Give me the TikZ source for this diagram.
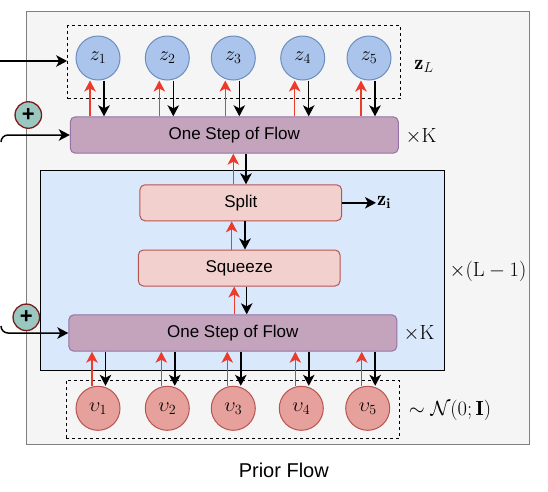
\RequirePackage{fix-cm}
\documentclass[tikz,border=0pt]{standalone}
\usepackage{fontspec}
\newfontfamily\lsans{Liberation Sans}
\usetikzlibrary{arrows.meta,calc}
\definecolor{outerfill}{HTML}{F5F5F5}
\definecolor{outerdraw}{HTML}{808080}
\definecolor{zfill}{HTML}{ABC4EB}
\definecolor{zdraw}{HTML}{6C8EBF}
\definecolor{vfill}{HTML}{E6A19C}
\definecolor{vdraw}{HTML}{B85450}
\definecolor{flowfill}{HTML}{C4A3BD}
\definecolor{flowdraw}{HTML}{9673A6}
\definecolor{pinkfill}{HTML}{F2D0CE}
\definecolor{pinkdraw}{HTML}{B85450}
\definecolor{bluefill}{HTML}{DAE8FC}
\definecolor{plusfill}{HTML}{9AC7BF}
\definecolor{plusdraw}{HTML}{7B1C1C}
\definecolor{redarr}{HTML}{EE3A2B}
\begin{document}
\begin{tikzpicture}[x=1pt,y=-1pt,
  outerbox/.style={draw=outerdraw,fill=outerfill,line width=1pt,inner sep=0pt,minimum width=503pt,minimum height=432.5pt},
  dashbox/.style={draw=black,dash pattern=on 3pt off 3pt,line width=1pt,inner sep=0pt},
  bluebox/.style={draw=black,fill=bluefill,line width=1pt,inner sep=0pt,minimum width=404pt,minimum height=200.3pt},
  zcirc/.style={circle,draw=zdraw,fill=zfill,line width=1pt,minimum size=44pt,inner sep=0pt,font=\fontsize{20}{20}\selectfont},
  vcirc/.style={circle,draw=vdraw,fill=vfill,line width=1pt,minimum size=44pt,inner sep=0pt,font=\fontsize{20}{20}\selectfont},
  flowbox/.style={rectangle,rounded corners=5pt,draw=flowdraw,fill=flowfill,line width=1pt,inner sep=0pt,minimum width=328pt,minimum height=36.4pt,font=\lsans\fontsize{17}{17}\selectfont},
  pinkbox/.style={rectangle,rounded corners=5pt,draw=pinkdraw,fill=pinkfill,line width=1pt,inner sep=0pt,minimum width=201.7pt,minimum height=36pt,font=\lsans\fontsize{17}{17}\selectfont},
  plusc/.style={circle,draw=plusdraw,fill=plusfill,line width=1.3pt,minimum size=26.5pt,inner sep=0pt,font=\lsans\bfseries\fontsize{22}{22}\selectfont},
  lbl/.style={inner sep=1pt,font=\fontsize{20.5}{21}\selectfont},
  arr/.style={draw=black,line width=1.5pt,-{Stealth[length=11pt,width=11.5pt,inset=3pt]}},
  rarr/.style={arr,draw=redarr,line width=1.3pt}
]
\useasboundingbox (0,0) rectangle (548,491);

% containers
\node[outerbox] (outer) at (277.6,228.2) {};
\node[bluebox] (blue) at (242,270.8) {};
\node[dashbox,minimum width=333.3pt,minimum height=72.7pt] (zbox) at (234.3,62.3) {};
\node[dashbox,minimum width=333.3pt,minimum height=58.3pt] (vbox) at (232.7,409.2) {};

% z nodes
\node[zcirc] (z1) at (98,58) {$z_1$};
\node[zcirc] (z2) at (167.3,58) {$z_2$};
\node[zcirc] (z3) at (233.3,58) {$z_3$};
\node[zcirc] (z4) at (302.7,58) {$z_4$};
\node[zcirc] (z5) at (369,58) {$z_5$};

% v nodes
\node[vcirc] (v1) at (98,408.3) {$\upsilon_1$};
\node[vcirc] (v2) at (167.3,408.3) {$\upsilon_2$};
\node[vcirc] (v3) at (233.3,408.3) {$\upsilon_3$};
\node[vcirc] (v4) at (301.3,408.3) {$\upsilon_4$};
\node[vcirc] (v5) at (367.7,408.3) {$\upsilon_5$};

% boxes
\node[flowbox] (flowT) at (234.3,135) {One Step of Flow};
\node[pinkbox] (split) at (240.8,202.8) {Split};
\node[pinkbox] (squeeze) at (239.2,268) {Squeeze};
\node[flowbox] (flowB) at (232.8,333) {One Step of Flow};

% labels
\node[lbl] (zL) at (424,66) {$\mathbf{z}_L$};
\node[lbl] (k1) at (421,136.7) {$\times\mathrm{K}$};
\node[lbl,anchor=west] (zi) at (376,202.8) {$\mathbf{z}_{\mathbf{i}}$};
\node[lbl] (lm1) at (488,271.7) {$\times(\mathrm{L}-1)$};
\node[lbl] (k2) at (419,333.3) {$\times\mathrm{K}$};
\node[lbl] (nrm) at (450,410) {$\sim\mathcal{N}(0;\mathbf{I})$};
\node[font=\lsans\fontsize{20}{20}\selectfont] (title) at (283.8,470) {Prior Flow};

% z <-> flowT
\foreach \i in {1,...,5}{
  \draw[rarr] ($(z\i.south |- flowT.north)+(-8,0)$) -- ($(z\i.south)+(-8,0)$);
  \draw[arr] ($(z\i.south)+(6,0)$) -- ($(z\i.south |- flowT.north)+(6,0)$);
}
% v <-> flowB
\foreach \i in {1,...,5}{
  \draw[rarr] ($(v\i.north)+(-6,0)$) -- ($(v\i.north |- flowB.south)+(-6,0)$);
  \draw[arr] ($(v\i.north |- flowB.south)+(7.5,0)$) -- ($(v\i.north)+(7.5,0)$);
}
% middle chain
\draw[rarr] ($(split.north)+(-7.5,0)$) -- ($(split.north |- flowT.south)+(-7.5,0)$);
\draw[arr] ($(split.north |- flowT.south)+(5.2,0)$) -- ($(split.north)+(5.2,0)$);
\draw[rarr] ($(squeeze.north)+(-7.5,0)$) -- ($(squeeze.north |- split.south)+(-7.5,0)$);
\draw[arr] ($(squeeze.north |- split.south)+(5.8,0)$) -- ($(squeeze.north)+(5.8,0)$);
\draw[rarr] ($(squeeze.south |- flowB.north)+(-5,0)$) -- ($(squeeze.south)+(-5,0)$);
\draw[arr] ($(squeeze.south)+(7.5,0)$) -- ($(squeeze.south |- flowB.north)+(7.5,0)$);
\draw[arr] (split.east) -- (zi.west);

% inputs
\coordinate (in1) at (0,61);
\coordinate (in2) at (1,142);
\coordinate (in3) at (1,326);
\draw[arr] (in1) -- (in1 -| zbox.west);
\draw[arr,rounded corners=7pt] (in2) |- (flowT.west);
\draw[arr,rounded corners=7pt] (in3) |- (flowB.west);

% plus circles
\node[plusc] (p1) at (28.3,115) {+};
\node[plusc] (p2) at (26.3,317.3) {+};
\end{tikzpicture}
\end{document}
